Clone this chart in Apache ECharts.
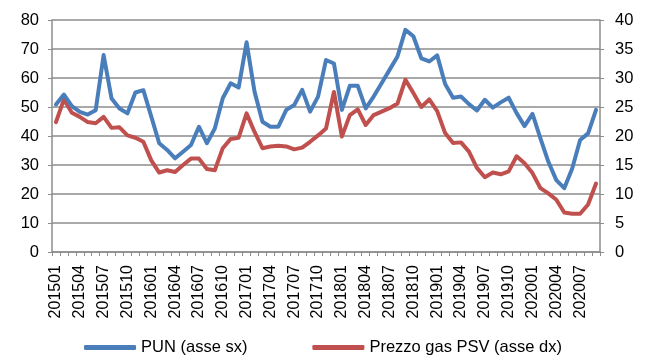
<!DOCTYPE html>
<html>
<head>
<meta charset="utf-8">
<title>PUN e prezzo gas PSV</title>
<script src="https://cdn.jsdelivr.net/npm/echarts@6/dist/echarts.min.js"></script>
<style>
  html, body { margin: 0; padding: 0; background: #fff; }
  #chart { width: 646px; height: 356px; }
</style>
</head>
<body>
<div id="chart"></div>
<script>
// Monthly series, January 2015 to September 2020
const months = [];
for (let y = 2015; y <= 2020; y++) {
  for (let m = 1; m <= 12; m++) {
    if (y === 2020 && m > 9) break;
    months.push(String(y) + (m < 10 ? '0' + m : m));
  }
}

// PUN, EUR/MWh (left axis)
const pun = [
  50.9, 54.3, 50.3, 48.3, 47.4, 48.9, 67.9, 52.9, 49.5, 47.8, 55.0, 55.8,
  46.7, 37.5, 35.2, 32.3, 34.6, 36.9, 43.2, 37.5, 42.6, 53.0, 58.2, 56.7,
  72.3, 55.3, 44.9, 43.2, 43.2, 49.0, 50.7, 55.9, 48.4, 53.6, 66.2, 65.0,
  49.0, 57.3, 57.3, 49.5, 53.6, 58.2, 62.8, 67.4, 76.6, 74.4, 66.8, 65.7,
  67.8, 57.9, 53.2, 53.6, 51.0, 48.8, 52.5, 49.8, 51.6, 53.2, 47.9, 43.4,
  47.6, 39.2, 31.1, 24.8, 22.0, 28.8, 38.6, 40.9, 49.0
];

// PSV gas price, EUR/MWh (right axis)
const psv = [
  22.4, 26.3, 24.0, 23.3, 22.4, 22.2, 23.3, 21.4, 21.5, 20.1, 19.7, 19.0,
  15.8, 13.7, 14.1, 13.8, 15.0, 16.1, 16.1, 14.3, 14.1, 17.9, 19.5, 19.7,
  23.9, 20.7, 17.9, 18.2, 18.3, 18.2, 17.7, 18.0, 19.0, 20.1, 21.3, 27.6,
  19.9, 23.6, 24.6, 21.9, 23.6, 24.2, 24.8, 25.6, 29.7, 27.4, 25.0, 26.3,
  24.3, 20.5, 18.8, 18.9, 17.3, 14.5, 12.9, 13.7, 13.4, 13.9, 16.5, 15.3,
  13.6, 11.0, 10.1, 9.0, 6.8, 6.6, 6.6, 8.2, 11.8
];

const seriesNames = ['PUN (asse sx)', 'Prezzo gas PSV (asse dx)'];

const FONT = "'Liberation Sans', Arial, sans-serif";
const GRID_GRAY = '#8c8c8c';

const chart = echarts.init(document.getElementById('chart'), null, { renderer: 'canvas' });

chart.setOption({
  animation: false,
  backgroundColor: '#ffffff',
  textStyle: { fontFamily: FONT, color: '#000' },
  grid: { left: 52, right: 46, top: 20, bottom: 104, containLabel: false },
  legend: {
    data: seriesNames,
    bottom: -5,
    left: 'center',
    itemWidth: 52,
    itemHeight: 5,
    itemGap: 65,
    icon: 'roundRect',
    textStyle: { fontFamily: FONT, fontSize: 16.5, color: '#000' }
  },
  xAxis: {
    type: 'category',
    data: months,
    boundaryGap: true,
    axisLine: { lineStyle: { color: GRID_GRAY, width: 1.5 } },
    axisTick: { show: true, interval: 0, length: 4, lineStyle: { color: GRID_GRAY } },
    axisLabel: {
      interval: 2,
      rotate: 90,
      margin: 13,
      fontSize: 16,
      fontFamily: FONT,
      color: '#000'
    },
    splitLine: { show: false }
  },
  yAxis: [
    {
      type: 'value',
      min: 0, max: 80, interval: 10,
      position: 'left',
      axisLine: { show: true, lineStyle: { color: GRID_GRAY, width: 1.5 } },
      axisTick: { show: true, length: 4, lineStyle: { color: GRID_GRAY } },
      axisLabel: { margin: 13, fontSize: 16.5, fontFamily: FONT, color: '#000' },
      splitLine: { show: true, lineStyle: { color: GRID_GRAY, width: 1.5 } }
    },
    {
      type: 'value',
      min: 0, max: 40, interval: 5,
      position: 'right',
      axisLine: { show: true, lineStyle: { color: GRID_GRAY, width: 1.5 } },
      axisTick: { show: true, length: 4, lineStyle: { color: GRID_GRAY } },
      axisLabel: { margin: 15, fontSize: 16.5, fontFamily: FONT, color: '#000' },
      splitLine: { show: false }
    }
  ],
  series: [
    {
      name: seriesNames[0],
      type: 'line',
      yAxisIndex: 0,
      data: pun,
      symbol: 'none',
      smooth: false,
      color: '#4a7ebb',
      lineStyle: { width: 4, color: '#4a7ebb', cap: 'round', join: 'round' },
      z: 3
    },
    {
      name: seriesNames[1],
      type: 'line',
      yAxisIndex: 1,
      data: psv,
      symbol: 'none',
      smooth: false,
      color: '#c0504d',
      lineStyle: { width: 4, color: '#c0504d', cap: 'round', join: 'round' },
      z: 2
    }
  ]
});
</script>
</body>
</html>
